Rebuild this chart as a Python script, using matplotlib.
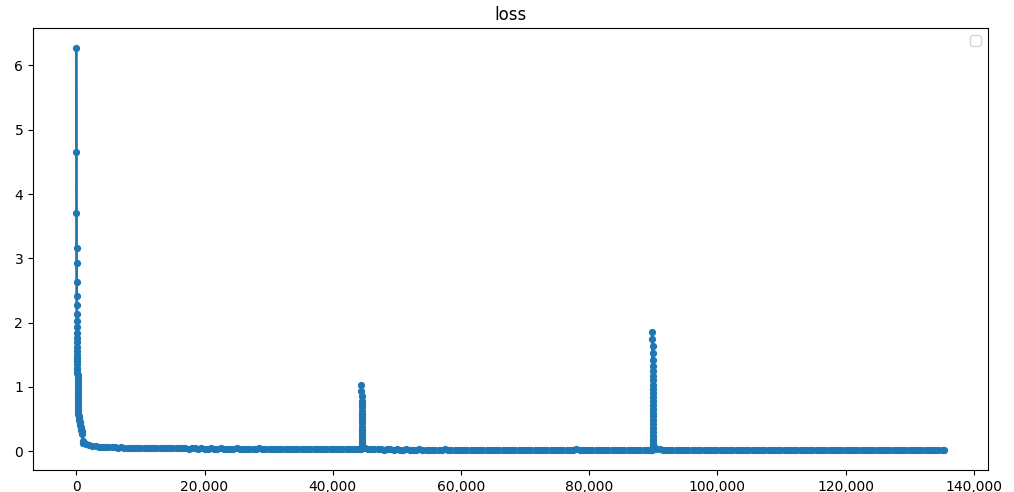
import numpy as np
import matplotlib.pyplot as plt
from matplotlib import ticker

# ---- data (training loss vs step) ----
# initial drop, logged densely
head_step = [0, 8, 16, 24, 32, 40, 48, 56, 64, 72, 80, 88, 96, 104, 112, 120,
             128, 136, 144, 152, 160, 168, 176, 184, 192, 200, 208, 216, 224,
             232, 240, 248, 256, 264, 272, 280, 288, 296, 320, 360, 400, 450,
             500, 550, 600, 650, 700, 760, 820, 880, 930, 960, 1000, 1100, 1200]
head_loss = [6.27, 4.65, 3.70, 3.16, 2.92, 2.63, 2.42, 2.27, 2.13, 2.02, 1.93,
             1.84, 1.76, 1.69, 1.62, 1.56, 1.50, 1.45, 1.40, 1.35, 1.30, 1.26,
             1.22, 1.18, 1.14, 1.10, 1.06, 1.02, 0.98, 0.94, 0.90, 0.86, 0.82,
             0.78, 0.74, 0.70, 0.66, 0.62, 0.58, 0.55, 0.52, 0.49, 0.46, 0.43,
             0.40, 0.37, 0.35, 0.33, 0.31, 0.29, 0.27, 0.15, 0.13, 0.12, 0.12]

# plateau before first spike (every 500 steps)
seg1_step = np.append(np.arange(1500, 44001, 500), [44200, 44400])
seg1_loss = [0.11, 0.09, 0.08, 0.08, 0.07, 0.07, 0.06, 0.07, 0.06, 0.06,
             0.05, 0.06, 0.05, 0.05, 0.05, 0.05, 0.04, 0.05, 0.05, 0.04,
             0.04, 0.05, 0.04, 0.04, 0.04, 0.05, 0.04, 0.04, 0.04, 0.04,
             0.04, 0.04, 0.03, 0.04, 0.04, 0.03, 0.04, 0.03, 0.03, 0.04,
             0.03, 0.03, 0.04, 0.03, 0.03, 0.03, 0.03, 0.04, 0.03, 0.03,
             0.03, 0.03, 0.03, 0.03, 0.04, 0.03, 0.03, 0.03, 0.03, 0.03,
             0.03, 0.03, 0.03, 0.03, 0.03, 0.03, 0.03, 0.03, 0.03, 0.03,
             0.03, 0.03, 0.03, 0.03, 0.03, 0.03, 0.03, 0.03, 0.03, 0.03,
             0.03, 0.03, 0.03, 0.03, 0.03, 0.03, 0.03, 0.03]

# first spike around step 44,500
spike1_step = [44480, 44484, 44488, 44492, 44496, 44500, 44504, 44508, 44512,
               44516, 44520, 44524, 44528, 44532, 44536, 44540, 44545, 44555,
               44580, 44620, 44700]
spike1_loss = [1.03, 0.93, 0.85, 0.78, 0.73, 0.68, 0.63, 0.58, 0.53, 0.48,
               0.43, 0.38, 0.33, 0.28, 0.23, 0.18, 0.14, 0.10, 0.08, 0.06, 0.05]

seg2_step = np.arange(45000, 89501, 500)
seg2_loss = [0.04, 0.03, 0.03, 0.03, 0.03, 0.03, 0.02, 0.03, 0.03, 0.02,
             0.03, 0.02, 0.02, 0.03, 0.02, 0.02, 0.02, 0.03, 0.02, 0.02,
             0.02, 0.02, 0.02, 0.02, 0.02, 0.03, 0.02, 0.02, 0.02, 0.02,
             0.02, 0.02, 0.02, 0.02, 0.02, 0.02, 0.02, 0.02, 0.02, 0.02,
             0.02, 0.02, 0.02, 0.02, 0.02, 0.02, 0.02, 0.02, 0.02, 0.02,
             0.02, 0.02, 0.02, 0.02, 0.02, 0.02, 0.02, 0.02, 0.02, 0.02,
             0.02, 0.02, 0.02, 0.02, 0.02, 0.02, 0.03, 0.02, 0.02, 0.02,
             0.02, 0.02, 0.02, 0.02, 0.02, 0.02, 0.02, 0.02, 0.02, 0.02,
             0.02, 0.02, 0.02, 0.02, 0.02, 0.02, 0.02, 0.02, 0.02, 0.02]

# second spike around step 90,000
spike2_step = [89880, 89885, 89890, 89895, 89900, 89905, 89910, 89915, 89920,
               89925, 89930, 89935, 89940, 89945, 89950, 89955, 89960, 89965,
               89970, 89975, 89980, 89985, 89990, 89998, 90006, 90015, 90025,
               90040, 90060, 90090, 90150, 90250]
spike2_loss = [1.85, 1.75, 1.63, 1.52, 1.42, 1.33, 1.25, 1.17, 1.10, 1.03,
               0.96, 0.90, 0.84, 0.78, 0.72, 0.66, 0.60, 0.54, 0.48, 0.42,
               0.36, 0.30, 0.24, 0.19, 0.15, 0.12, 0.10, 0.08, 0.07, 0.06,
               0.05, 0.04]

seg3_step = np.append(np.arange(90500, 135001, 500), 135400)
seg3_loss = [0.03, 0.03, 0.02, 0.02, 0.02, 0.02, 0.02, 0.02, 0.02, 0.02,
             0.02, 0.02, 0.02, 0.02, 0.02, 0.02, 0.02, 0.02, 0.02, 0.02,
             0.02, 0.02, 0.02, 0.02, 0.02, 0.02, 0.02, 0.02, 0.02, 0.02,
             0.02, 0.02, 0.02, 0.02, 0.02, 0.02, 0.02, 0.02, 0.02, 0.02,
             0.02, 0.02, 0.02, 0.02, 0.02, 0.02, 0.02, 0.02, 0.02, 0.02,
             0.02, 0.02, 0.02, 0.02, 0.02, 0.02, 0.02, 0.02, 0.02, 0.02,
             0.02, 0.02, 0.02, 0.02, 0.02, 0.02, 0.02, 0.02, 0.02, 0.02,
             0.02, 0.02, 0.02, 0.02, 0.02, 0.02, 0.02, 0.02, 0.02, 0.02,
             0.02, 0.02, 0.02, 0.02, 0.02, 0.02, 0.02, 0.02, 0.02, 0.02,
             0.02]

seg_pre2_step = [89700, 89800]
seg_pre2_loss = [0.02, 0.02]

steps = np.concatenate([head_step, seg1_step, spike1_step, seg2_step,
                        seg_pre2_step, spike2_step, seg3_step])
loss = np.concatenate([head_loss, seg1_loss, spike1_loss, seg2_loss,
                       seg_pre2_loss, spike2_loss, seg3_loss])

fig, ax = plt.subplots(figsize=(10.14, 4.92), dpi=100)
fig.subplots_adjust(left=0.0325, right=0.974, top=0.943, bottom=0.045)

ax.plot(steps, loss, marker="o", markersize=4.2, linewidth=2, color="#1f77b4")
ax.set_title("loss")
ax.xaxis.set_major_formatter(ticker.StrMethodFormatter("{x:,.0f}"))
ax.legend(handles=[], loc="upper right")

plt.savefig("out.png")
